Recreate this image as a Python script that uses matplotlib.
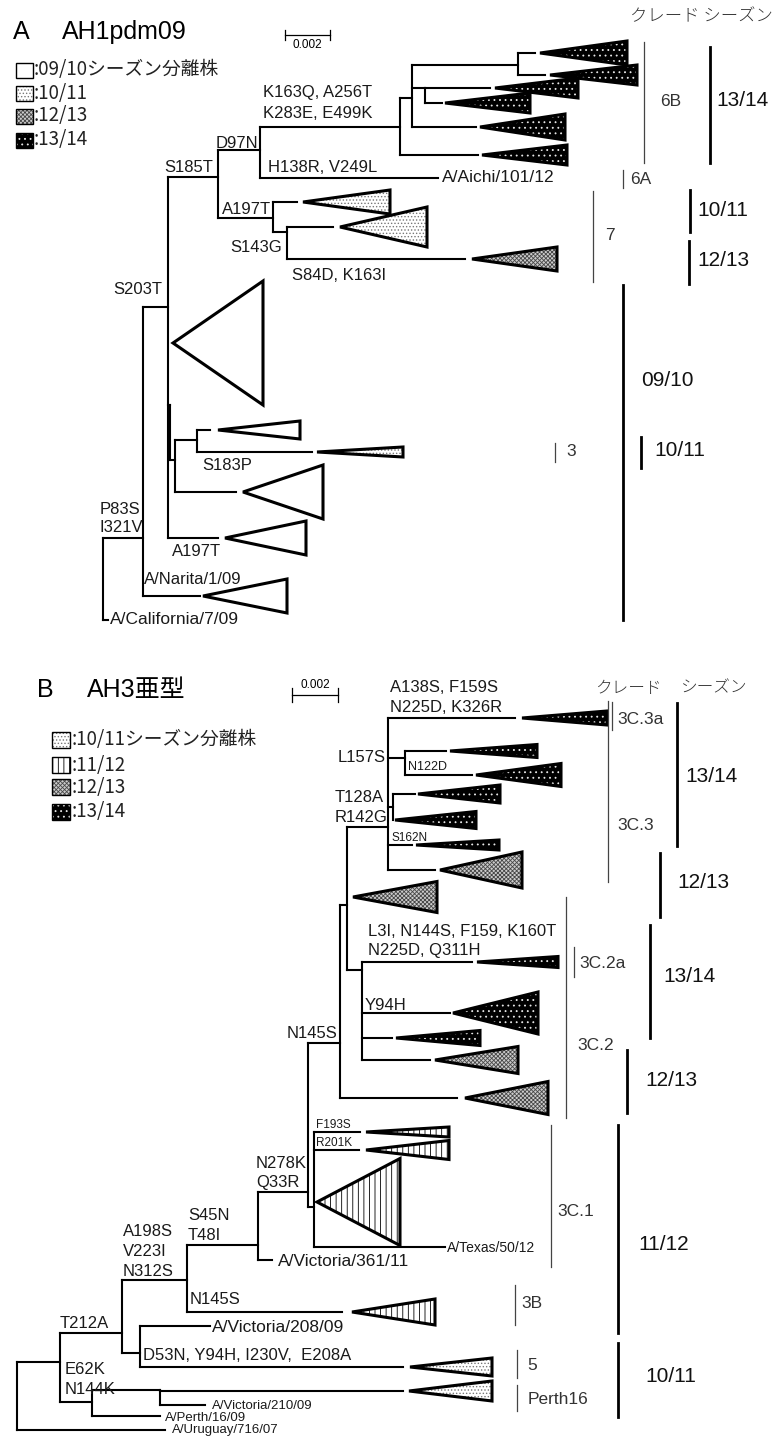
import matplotlib
matplotlib.use('Agg')
import matplotlib.pyplot as plt
from matplotlib.patches import Polygon, Rectangle

LATIN = ['Liberation Sans', 'Noto Sans CJK JP']
JP = ['Noto Sans CJK JP', 'DejaVu Sans']
plt.rcParams['hatch.linewidth'] = 0.6

# シーズンごとの塗り (背景色, ハッチ, ハッチ色)
seasons = {
    '09/10': ('white', None, 'black'),
    '10/11': ('white', '.....', '#777777'),
    '11/12': ('white', '|||', 'black'),
    '12/13': ('#cccccc', 'xxxxxxxx', '#474747'),
    '13/14': ('black', '...', '#e8e8e8'),
}

# ---- A: AH1pdm09 ----
# (ノード, 親, x, y)
tree_a = [
    ('root', None, 103, 538),
    ('P83S', 'root', 143, 538),
    ('Narita', 'P83S', 200, 596),
    ('California', 'root', 108, 620),
    ('S203T', 'P83S', 168, 307),
    ('big0910', 'S203T', 168, 343),
    ('na', 'S203T', 170, 405),
    ('nb', 'na', 175, 460),
    ('nc', 'nb', 197, 440),
    ('t1011a', 'nc', 210, 430),
    ('S183P', 'nc', 312, 452),
    ('t0910b', 'nb', 236, 492),
    ('A197T_b', 'S203T', 218, 538),
    ('S185T', 'S203T', 218, 177),
    ('D97N', 'S185T', 260, 150),
    ('Aichi', 'D97N', 438, 178),
    ('A197T', 'S185T', 273, 218),
    ('t1011b', 'A197T', 297, 202),
    ('S143G', 'A197T', 287, 232),
    ('t1011c', 'S143G', 333, 227),
    ('t1213a', 'S143G', 465, 259),
    ('K163Q', 'D97N', 400, 127),
    ('n2', 'K163Q', 412, 98),
    ('n3', 'n2', 518, 65),
    ('b1', 'n3', 535, 53),
    ('b2', 'n3', 545, 75),
    ('n4', 'n2', 425, 88),
    ('b3', 'n4', 490, 88),
    ('b4', 'n4', 442, 103),
    ('b5', 'n2', 476, 127),
    ('b6', 'K163Q', 478, 155),
]
# (ノード, 先端x, 右端x, 半幅, シーズン)
tri_a = [
    ('Narita', 203, 287, 17, '09/10'),
    ('big0910', 173, 263, 62, '09/10'),
    ('t1011a', 218, 300, 9, '09/10'),
    ('S183P', 317, 403, 5, '10/11'),
    ('t0910b', 243, 323, 27, '09/10'),
    ('A197T_b', 225, 306, 17, '09/10'),
    ('t1011b', 303, 390, 12, '10/11'),
    ('t1011c', 340, 427, 20, '10/11'),
    ('t1213a', 472, 557, 12, '12/13'),
    ('b1', 540, 627, 12, '13/14'),
    ('b2', 550, 637, 10, '13/14'),
    ('b3', 495, 578, 10, '13/14'),
    ('b4', 445, 530, 10, '13/14'),
    ('b5', 480, 565, 13, '13/14'),
    ('b6', 482, 567, 10, '13/14'),
]
# (テキスト, x, y, 配置, サイズ)
labels_a = [
    ('K163Q, A256T', 263, 92, 'left', 12), ('K283E, E499K', 263, 113, 'left', 12),
    ('D97N', 258, 143, 'right', 12), ('S185T', 213, 168, 'right', 12),
    ('H138R, V249L', 268, 167, 'left', 12), ('A/Aichi/101/12', 442, 178, 'left', 12.5),
    ('A197T', 222, 210, 'left', 12), ('S143G', 282, 247, 'right', 12),
    ('S84D, K163I', 292, 276, 'left', 12), ('S203T', 162, 290, 'right', 12),
    ('S183P', 202, 466, 'left', 12), ('P83S', 100, 510, 'left', 12),
    ('I321V', 100, 528, 'left', 12), ('A197T', 172, 552, 'left', 12),
    ('A/Narita/1/09', 144, 580, 'left', 12), ('A/California/7/09', 110, 620, 'left', 12.5),
]
# (x, y上, y下, ラベル, ラベルx, ラベルy)
clades_a = [
    (644, 42, 163, '6B', 660, 102), (623, 170, 188, '6A', 630, 180),
    (593, 191, 282, '7', 605, 236), (555, 443, 462, '3', 566, 452),
]
season_bars_a = [
    (710, 47, 163, '13/14', 716, 101), (690, 190, 232, '10/11', 697, 210),
    (689, 241, 284, '12/13', 697, 260), (623, 285, 620, '09/10', 641, 381),
    (641, 437, 468, '10/11', 654, 451),
]
legend_a = ['09/10', '10/11', '12/13', '13/14']
legend_a_text = [':09/10シーズン分離株', ':10/11', ':12/13', ':13/14']

# ---- B: AH3亜型 ----
tree_b = [
    ('root', None, 17, 1362),
    ('T212A', 'root', 60, 1362),
    ('Uruguay', 'root', 165, 1430),
    ('A198S', 'T212A', 122, 1333),
    ('E62K', 'T212A', 92, 1402),
    ('n210', 'E62K', 160, 1390),
    ('Perth16', 'n210', 403, 1391),
    ('Vic210', 'n210', 205, 1405),
    ('Perth', 'E62K', 160, 1416),
    ('V208', 'A198S', 140, 1353),
    ('Vic208', 'V208', 210, 1326),
    ('D53N', 'V208', 403, 1367),
    ('S45N', 'A198S', 187, 1280),
    ('N145S_3B', 'S45N', 342, 1312),
    ('N278K', 'S45N', 258, 1245),
    ('Vic361', 'N278K', 272, 1260),
    ('D', 'N278K', 308, 1192),
    ('E', 'D', 314, 1207),
    ('F193S', 'E', 360, 1132),
    ('R201K', 'E', 359, 1150),
    ('big1112', 'E', 314, 1202),
    ('Texas', 'E', 445, 1247),
    ('N145S', 'D', 340, 1043),
    ('c1213a', 'N145S', 457, 1098),
    ('Q', 'N145S', 347, 905),
    ('c1213b', 'Q', 347, 897),
    ('R', 'Q', 362, 970),
    ('c2a', 'R', 472, 962),
    ('Y94H', 'R', 450, 1013),
    ('c2b', 'R', 392, 1038),
    ('c2c', 'R', 430, 1060),
    ('X', 'Q', 388, 827),
    ('c3a', 'X', 515, 718),
    ('L157S', 'X', 405, 758),
    ('c3b', 'L157S', 446, 751),
    ('N122D', 'L157S', 472, 775),
    ('Y', 'X', 393, 807),
    ('c3c', 'Y', 415, 794),
    ('c3d', 'Y', 393, 820),
    ('S162N', 'X', 412, 845),
    ('c3e', 'X', 435, 870),
]
tri_b = [
    ('Perth16', 409, 492, 10, '10/11'),
    ('D53N', 410, 492, 9, '10/11'),
    ('N145S_3B', 352, 435, 13, '11/12'),
    ('F193S', 366, 449, 5, '11/12'),
    ('R201K', 366, 449, 9.5, '11/12'),
    ('big1112', 317, 400, 43.5, '11/12'),
    ('c1213a', 465, 548, 16.5, '12/13'),
    ('c1213b', 353, 437, 15.5, '12/13'),
    ('c2a', 477, 558, 5.5, '13/14'),
    ('Y94H', 453, 538, 21, '13/14'),
    ('c2b', 396, 480, 7.5, '13/14'),
    ('c2c', 435, 518, 13.5, '12/13'),
    ('c3a', 522, 607, 7, '13/14'),
    ('c3b', 450, 537, 6.5, '13/14'),
    ('N122D', 476, 561, 11.5, '13/14'),
    ('c3c', 418, 500, 9, '13/14'),
    ('c3d', 395, 476, 8.5, '13/14'),
    ('S162N', 416, 499, 5, '13/14'),
    ('c3e', 440, 522, 18, '12/13'),
]
labels_b = [
    ('A138S, F159S', 390, 687, 'left', 12), ('N225D, K326R', 390, 707, 'left', 12),
    ('L157S', 386, 758, 'right', 12), ('N122D', 408, 767, 'left', 9),
    ('T128A', 335, 797, 'left', 12), ('R142G', 335, 818, 'left', 12),
    ('S162N', 392, 838, 'left', 8.5),
    ('L3I, N144S, F159, K160T', 368, 932, 'left', 12), ('N225D, Q311H', 368, 951, 'left', 12),
    ('Y94H', 365, 1005, 'left', 12), ('N145S', 337, 1034, 'right', 12),
    ('F193S', 316, 1125, 'left', 8.5), ('R201K', 316, 1143, 'left', 8.5),
    ('N278K', 256, 1163, 'left', 12), ('Q33R', 256, 1183, 'left', 12),
    ('S45N', 188, 1215, 'left', 12), ('T48I', 188, 1235, 'left', 12),
    ('A198S', 123, 1232, 'left', 12), ('V223I', 123, 1252, 'left', 12),
    ('N312S', 123, 1272, 'left', 12), ('N145S', 190, 1300, 'left', 12),
    ('A/Victoria/361/11', 278, 1262, 'left', 12.5), ('A/Texas/50/12', 447, 1248, 'left', 10),
    ('A/Victoria/208/09', 212, 1328, 'left', 12.5),
    ('D53N, Y94H, I230V,  E208A', 143, 1355, 'left', 12),
    ('T212A', 60, 1323, 'left', 12), ('E62K', 65, 1370, 'left', 12),
    ('N144K', 65, 1390, 'left', 12), ('A/Victoria/210/09', 212, 1406, 'left', 9.5),
    ('A/Perth/16/09', 165, 1418, 'left', 9.5), ('A/Uruguay/716/07', 172, 1430, 'left', 9.5),
]
clades_b = [
    (608, 701, 882, '3C.3', 617, 825), (612, 702, 730, '3C.3a', 617, 719),
    (566, 897, 1118, '3C.2', 577, 1046), (574, 947, 977, '3C.2a', 579, 963),
    (551, 1125, 1267, '3C.1', 557, 1212), (515, 1285, 1325, '3B', 521, 1303),
    (517, 1350, 1378, '5', 527, 1366), (517, 1385, 1411, 'Perth16', 528, 1400),
]
season_bars_b = [
    (677, 703, 846, '13/14', 685, 777), (660, 853, 917, '12/13', 677, 883),
    (650, 925, 1038, '13/14', 663, 977), (627, 1050, 1113, '12/13', 645, 1080),
    (618, 1125, 1333, '11/12', 638, 1245), (618, 1343, 1417, '10/11', 645, 1376),
]
legend_b = ['10/11', '11/12', '12/13', '13/14']
legend_b_text = [':10/11シーズン分離株', ':11/12', ':12/13', ':13/14']


def draw_tree(ax, nodes):
    pos = {n[0]: (n[2], n[3]) for n in nodes}
    kids = {}
    for name, parent, x, y in nodes:
        if parent:
            kids.setdefault(parent, []).append(name)
    for name, parent, x, y in nodes:
        if parent:
            px = pos[parent][0]
            ax.plot([px, x], [y, y], color='black', lw=1.5, solid_capstyle='projecting')
        ys = [pos[k][1] for k in kids.get(name, [])]
        if ys:
            ys.append(y)
            ax.plot([x, x], [min(ys), max(ys)], color='black', lw=1.5,
                    solid_capstyle='projecting')
    return pos


def draw_triangles(ax, pos, tris):
    for node, tip, right, half, season in tris:
        y = pos[node][1]
        pts = [(tip, y), (right, y - half), (right, y + half)]
        fc, hatch, hc = seasons[season]
        ax.add_patch(Polygon(pts, closed=True, facecolor=fc, edgecolor=hc,
                             hatch=hatch, lw=0))
        ax.add_patch(Polygon(pts, closed=True, fill=False, edgecolor='black',
                             lw=2.2, joinstyle='miter'))


def draw_bars(ax, clades, bars):
    for x, y0, y1, name, tx, ty in clades:
        ax.plot([x, x], [y0, y1], color='#444444', lw=0.9)
        ax.text(tx, ty, name, fontsize=12.5, family=LATIN, color='#333333',
                va='center', ha='left')
    for x, y0, y1, name, tx, ty in bars:
        ax.plot([x, x], [y0, y1], color='black', lw=2)
        ax.text(tx, ty, name, fontsize=15, family=LATIN, color='#111111',
                va='center', ha='left')


def draw_legend(ax, keys, texts, x, ys, w, h, tx):
    for key, text, y in zip(keys, texts, ys):
        fc, hatch, hc = seasons[key]
        ax.add_patch(Rectangle((x, y - h / 2), w, h, facecolor=fc, edgecolor=hc,
                               hatch=hatch, lw=0))
        ax.add_patch(Rectangle((x, y - h / 2), w, h, fill=False, edgecolor='black', lw=1))
        ax.text(tx, y, text, fontsize=13.5, family=JP, va='center', ha='left',
                color='#222222')


def draw_labels(ax, labels):
    for text, x, y, ha, size in labels:
        ax.text(x, y, text, fontsize=size, family=LATIN, va='center', ha=ha,
                color='#1a1a1a')


fig = plt.figure(figsize=(7.84, 14.38), dpi=100)
ax = fig.add_axes([0, 0, 1, 1])
ax.set_xlim(0, 784)
ax.set_ylim(1438, 0)
ax.axis('off')

# A
ax.text(13, 32, 'A', fontsize=18, family=LATIN, va='center')
ax.text(62, 32, 'AH1pdm09', fontsize=18, family=LATIN, va='center')
ax.plot([285, 330], [35, 35], color='black', lw=0.9)
ax.plot([285, 285], [30, 40], color='black', lw=0.9)
ax.plot([330, 330], [30, 40], color='black', lw=0.9)
ax.text(307, 45, '0.002', fontsize=8.5, family=LATIN, ha='center', va='center')
ax.text(630, 16, 'クレード シーズン', fontsize=12.5, family=JP, va='center',
        ha='left', color='#333333', fontweight='light')
pos_a = draw_tree(ax, tree_a)
draw_triangles(ax, pos_a, tri_a)
draw_labels(ax, labels_a)
draw_bars(ax, clades_a, season_bars_a)
draw_legend(ax, legend_a, legend_a_text, 16, [70, 93, 116, 140], 17, 15, 34)

# B
ax.text(37, 690, 'B', fontsize=18, family=LATIN, va='center')
ax.text(87, 690, 'AH3亜型', fontsize=18, family=LATIN, va='center')
ax.plot([292, 338], [695, 695], color='black', lw=0.9)
ax.plot([292, 292], [688, 702], color='black', lw=0.9)
ax.plot([338, 338], [688, 702], color='black', lw=0.9)
ax.text(315, 685, '0.002', fontsize=8.5, family=LATIN, ha='center', va='center')
ax.text(595, 688, 'クレード', fontsize=12, family=JP, va='center', ha='left',
        color='#333333', fontweight='light')
ax.text(680, 688, 'シーズン', fontsize=12, family=JP, va='center', ha='left',
        color='#333333', fontweight='light')
pos_b = draw_tree(ax, tree_b)
draw_triangles(ax, pos_b, tri_b)
draw_labels(ax, labels_b)
draw_bars(ax, clades_b, season_bars_b)
draw_legend(ax, legend_b, legend_b_text, 52, [740, 765, 787, 812], 18, 16, 72)

fig.savefig('out.png', dpi=100)
